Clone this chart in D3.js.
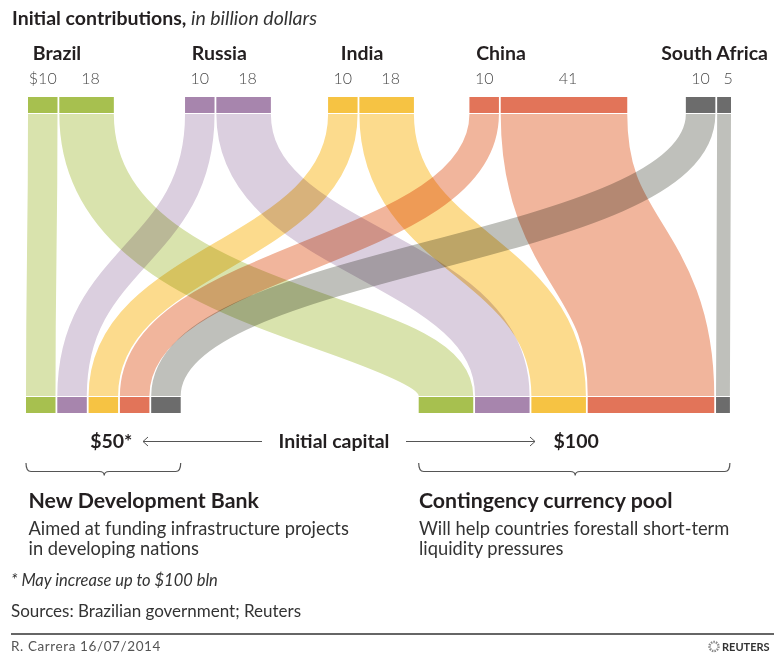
<!DOCTYPE html>
<html>
<head>
<meta charset="utf-8">
<script src="https://cdn.jsdelivr.net/npm/d3@7"></script>
<style>
  body { margin: 0; background: #fff; }
  svg { display: block; font-family: "Source Sans Pro", Lato, "Noto Sans", sans-serif; }
  .band { mix-blend-mode: multiply; fill: none; }
</style>
</head>
<body>
<svg id="chart" width="774" height="654"></svg>
<script>
// data
const countries = ["Brazil", "Russia", "India", "China", "South Africa"];
const bankShare = [10, 10, 10, 10, 10];   // New Development Bank
const poolShare = [18, 18, 18, 41, 5];    // Contingency currency pool
const capital = ["$50*", "$100"];
const valuePrefix = ["$", "", "", "", ""];
const darkColors = ["#a7c04f", "#a785ad", "#f6c343", "#e27459", "#6c6c6c"];
const lightColors = ["#d9e3ad", "#dbcfdf", "#fcdb8d", "#f1b59c", "#bfc0bb"];

// layout
const W = 774, H = 654;
const k = d3.scaleLinear().domain([0, 1]).range([0, 3.13]);
const barGap = 1.8;
const groupGaps = [28, 69.4, 55.4, 53.7, 56.8];
const topY = 97, barH = 16, botY = 397;
const bankX0 = 26, poolX0 = 418.7;
const bend = [0.72, 0.5, 0.5, 0.5, 0.5];   // where the pool flows turn (fraction of height)
const labelShift = [-10, -8, -2, -8, 0];

const svg = d3.select("#chart");

// top bars
let gx = 0;
const groups = countries.map((c, i) => {
    gx += groupGaps[i];
    const a = { x: gx, w: k(bankShare[i]) - barGap };
    const b = { x: gx + k(bankShare[i]), w: k(poolShare[i]) - barGap };
    gx += k(bankShare[i] + poolShare[i]);
    return { name: c, i: i, bank: a, pool: b };
});

// bottom bars
let cb = 0, cp = 0;
const bottomBank = bankShare.map((v, i) => {
    const r = { x: bankX0 + k(cb), w: k(v) - barGap, i: i }; cb += v; return r;
});
const bottomPool = poolShare.map((v, i) => {
    const r = { x: poolX0 + k(cp), w: k(v) - barGap, i: i }; cp += v; return r;
});

function flowPath(x0, x1, m) {
    const y0 = topY + barH + 1, y1 = botY - 1;
    const ym = y0 + (y1 - y0) * m;
    const p = d3.path();
    p.moveTo(x0, y0);
    p.bezierCurveTo(x0, ym, x1, ym, x1, y1);
    return p.toString();
}

const flows = [];
groups.forEach(t => {
    const bb = bottomBank[t.i], bp = bottomPool[t.i];
    flows.push({ i: t.i, w: t.bank.w, d: flowPath(t.bank.x + t.bank.w / 2, bb.x + bb.w / 2, 0.5) });
    flows.push({ i: t.i, w: t.pool.w, d: flowPath(t.pool.x + t.pool.w / 2, bp.x + bp.w / 2, bend[t.i]) });
});

svg.append("g").selectAll("path")
    .data(flows)
    .join("path")
    .attr("class", "band")
    .attr("d", d => d.d)
    .attr("stroke", d => lightColors[d.i])
    .attr("stroke-width", d => d.w);

// bars
const topBars = [];
groups.forEach(t => {
    topBars.push({ ...t.bank, i: t.i, v: bankShare[t.i], first: true });
    topBars.push({ ...t.pool, i: t.i, v: poolShare[t.i], first: false });
});

svg.append("g").selectAll("rect")
    .data(topBars)
    .join("rect")
    .attr("x", d => d.x).attr("y", topY)
    .attr("width", d => d.w).attr("height", barH)
    .attr("fill", d => darkColors[d.i]);

svg.append("g").selectAll("rect")
    .data(bottomBank.concat(bottomPool))
    .join("rect")
    .attr("x", d => d.x).attr("y", botY)
    .attr("width", d => d.w).attr("height", barH)
    .attr("fill", d => darkColors[d.i]);

// value labels
svg.append("g").selectAll("text")
    .data(topBars)
    .join("text")
    .attr("x", d => d.x + d.w / 2 + (d.first ? 0 : 4))
    .attr("y", 83.5)
    .attr("text-anchor", "middle")
    .attr("font-size", 16)
    .attr("font-weight", 300)
    .attr("fill", "#4a4a4a")
    .text(d => (d.first ? valuePrefix[d.i] : "") + d.v);

// country labels
svg.append("g").selectAll("text")
    .data(groups)
    .join("text")
    .attr("x", d => d.i === 4 ? W - 6 : d.bank.x + d.bank.w / 2 + labelShift[d.i])
    .attr("y", 60)
    .attr("text-anchor", d => d.i === 4 ? "end" : "start")
    .attr("font-size", 19.5)
    .attr("font-weight", 700)
    .attr("fill", "#231f20")
    .text(d => d.name);

// title
const title = svg.append("text").attr("x", 12).attr("y", 25).attr("font-size", 19.5).attr("fill", "#231f20");
title.append("tspan").attr("font-weight", 700).text("Initial contributions,");
title.append("tspan").attr("font-style", "italic").attr("font-weight", 400).attr("fill", "#333").text(" in billion dollars");

// capital row
const bankMid = bankX0 + k(d3.sum(bankShare)) / 2;
const poolMid = poolX0 + k(d3.sum(poolShare)) / 2;
const capY = 448;
const capStyle = sel => sel.attr("text-anchor", "middle").attr("font-size", 19.5)
    .attr("font-weight", 700).attr("fill", "#231f20");
svg.append("text").attr("x", bankMid + 7).attr("y", capY).call(capStyle).text(capital[0]);
svg.append("text").attr("x", poolMid + 1).attr("y", capY).call(capStyle).text(capital[1]);
svg.append("text").attr("x", 334).attr("y", capY).call(capStyle).text("Initial capital");

const arrows = svg.append("g").attr("stroke", "#555").attr("fill", "none").attr("stroke-width", 1);
arrows.append("path").attr("d", "M262,441.5H143M148,437L143,441.5L148,446");
arrows.append("path").attr("d", "M406,441.5H535M530,437L535,441.5L530,446");

function brace(x0, x1, tip) {
    const y0 = 463, y1 = 471.5;
    return `M${x0},${y0}Q${x0},${y1} ${x0 + 5},${y1}H${tip - 5}Q${tip},${y1} ${tip},${y1 + 4}`
        + `Q${tip},${y1} ${tip + 5},${y1}H${x1 - 5}Q${x1},${y1} ${x1},${y0}`;
}
const braces = svg.append("g").attr("stroke", "#555").attr("fill", "none").attr("stroke-width", 1.2);
braces.append("path").attr("d", brace(bankX0, bankX0 + k(d3.sum(bankShare)) - barGap, bankMid));
braces.append("path").attr("d", brace(poolX0, poolX0 + k(d3.sum(poolShare)) - barGap, poolMid));

// descriptions
const blocks = [
    { x: 28.5, head: "New Development Bank", lines: ["Aimed at funding infrastructure projects", "in developing nations"] },
    { x: 419, head: "Contingency currency pool", lines: ["Will help countries forestall short-term", "liquidity pressures"] }
];
blocks.forEach(b => {
    svg.append("text").attr("x", b.x).attr("y", 508).attr("font-size", 21.3).attr("font-weight", 700)
        .attr("fill", "#231f20").text(b.head);
    b.lines.forEach((l, j) => {
        svg.append("text").attr("x", b.x).attr("y", 535 + j * 20).attr("font-size", 18.3)
            .attr("fill", "#333").text(l);
    });
});

// notes
svg.append("text").attr("x", 11).attr("y", 586).attr("font-size", 16.5).attr("font-style", "italic")
    .attr("fill", "#333").text("* May increase up to $100 bln");
svg.append("text").attr("x", 11).attr("y", 617).attr("font-size", 17)
    .attr("fill", "#333").text("Sources: Brazilian government; Reuters");
svg.append("line").attr("x1", 11).attr("x2", W).attr("y1", 634).attr("y2", 634)
    .attr("stroke", "#333").attr("stroke-width", 1.5);
svg.append("text").attr("x", 11).attr("y", 651).attr("font-size", 13.5).attr("letter-spacing", 0.6)
    .attr("fill", "#555").text("R. Carrera 16/07/2014");
svg.append("circle").attr("cx", 714).attr("cy", 646.5).attr("r", 4.5)
    .attr("fill", "none").attr("stroke", "#888").attr("stroke-width", 2.5).attr("stroke-dasharray", "1.5 1");
svg.append("text").attr("x", 722).attr("y", 651).attr("font-size", 11).attr("font-weight", 700)
    .attr("fill", "#333").text("REUTERS");
</script>
</body>
</html>
